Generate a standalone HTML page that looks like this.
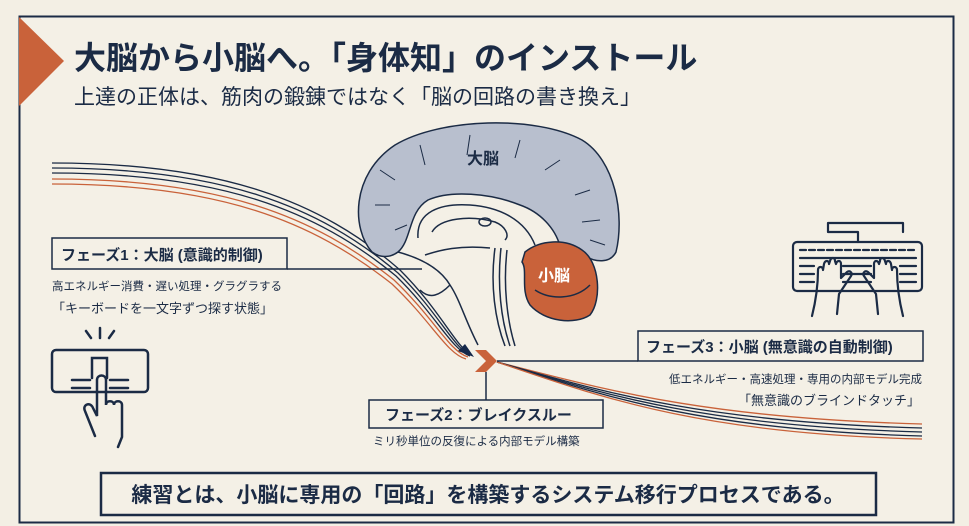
<!DOCTYPE html>
<html><head><meta charset="utf-8"><style>
html,body{margin:0;padding:0;background:#f3efe4;}
svg{display:block;}
text{font-family:"Liberation Sans","Noto Sans CJK JP",sans-serif;fill:#1b2b45;}
</style></head><body>
<svg width="969" height="526" viewBox="0 0 969 526" xmlns="http://www.w3.org/2000/svg">
<rect x="0" y="0" width="969" height="526" fill="#f3efe4"/>
<rect x="19.5" y="16.5" width="934" height="506" fill="#f4f0e6" stroke="#1b2b45" stroke-width="2"/>
<polygon points="19,17 64,61 19,106" fill="#c9623a"/>
<text x="74" y="69" font-size="32" font-weight="bold" fill="#14284a">大脳から小脳へ。「身体知」のインストール</text>
<text x="74" y="104" font-size="21" fill="#222">上達の正体は、筋肉の鍛錬ではなく「脳の回路の書き換え」</text>

<!-- curves -->
<g fill="none" stroke-width="1.3">
<path d="M52,163 C220,163 320,200 400,270 C440,310 455,345 470,354" stroke="#1b2b45"/>
<path d="M52,168 C220,168 318,205 398,273 C438,312 453,347 470,355" stroke="#1b2b45"/>
<path d="M52,173 C220,173 316,210 396,276 C436,315 451,349 470,356" stroke="#1b2b45"/>
<path d="M52,179 C220,179 314,216 394,280 C434,318 449,351 468,357" stroke="#c9623a"/>
<path d="M52,184 C220,184 312,221 392,284 C432,322 447,354 466,359" stroke="#c9623a"/>
<path d="M497,362 C600,388 700,418 922,424" stroke="#c9623a"/>
<path d="M497,362 C600,391 700,422 922,428" stroke="#1b2b45"/>
<path d="M497,362 C600,393 700,426 922,432" stroke="#1b2b45"/>
<path d="M497,362 C600,395 700,430 922,436" stroke="#1b2b45"/>
<path d="M497,362 C600,397 700,434 922,439" stroke="#c9623a"/>
</g>
<polygon points="474,357 458,351 465,344" fill="#14284a"/>
<polygon points="475,350 486,350 497,361 486,372 475,372 486,361" fill="#c9623a"/>

<!-- brain -->
<g stroke="#1b2b45" stroke-width="1.5">
<path d="M372,252 C352,230 350,175 395,145 C440,118 535,115 582,140 C615,160 625,215 616,252 C610,264 595,262 585,256 L560,246 C555,228 540,212 520,205 C490,193 450,190 428,200 C408,212 412,240 398,252 C390,258 380,258 372,252 Z" fill="#b8bfce"/>
<path d="M418,238 C416,212 440,203 470,205 C500,207 525,220 535,245" fill="none"/>
<path d="M432,232 C440,218 470,215 495,222 C505,226 510,235 505,240" fill="none"/>
<ellipse cx="485" cy="222" rx="6" ry="4" fill="none"/>
<path d="M398,252 C420,258 440,268 450,285 C460,300 465,320 478,345" fill="none"/>
<path d="M425,255 C440,250 460,245 490,248" fill="none"/>
<path d="M495,248 C490,285 495,320 505,346 M501,248 C497,285 501,320 510,346 M507,250 C503,285 507,320 515,346" fill="none"/>
<path d="M450,285 C440,295 430,300 420,290" fill="none"/>
<path d="M525,252 C540,240 565,238 582,250 C600,262 602,300 590,315 C575,325 545,322 530,305 C520,290 528,270 522,262 Z" fill="#c9623a"/>
<path d="M535,290 C550,300 575,300 590,285" fill="none"/>
</g>
<g stroke="#1b2b45" stroke-width="1" fill="none">
<path d="M380,170 l15,10 M420,145 l5,20 M470,135 l-3,20 M520,140 l-5,18 M560,160 l-15,10 M590,190 l-15,5 M600,220 l-18,2 M375,205 l15,0 M395,230 l12,-5 M605,245 l-15,-5"/>
</g>
<text x="467" y="164" font-size="16" font-weight="bold">大脳</text>
<text x="538" y="281" font-size="16" font-weight="bold" style="fill:#fff">小脳</text>

<!-- phase 1 -->
<line x1="287" y1="269" x2="422" y2="269" stroke="#1b2b45" stroke-width="1.5"/>
<rect x="52" y="238" width="235" height="31" fill="#f4f0e6" stroke="#1b2b45" stroke-width="1.5"/>
<text x="61" y="260" font-size="15" font-weight="bold">フェーズ1：大脳 (意識的制御)</text>
<text x="52" y="290" font-size="11.5">高エネルギー消費・遅い処理・グラグラする</text>
<text x="52" y="313" font-size="13">「キーボードを一文字ずつ探す状態」</text>

<!-- icon 1 -->
<g stroke="#1b2b45" stroke-width="2.5" fill="none" stroke-linecap="round">
<rect x="52" y="350" width="96" height="42" rx="4"/>
<path d="M86,331 l5,7 M100,328 v10 M114,331 l-5,7"/>
<path d="M92,378 v-20 h15 v20"/>
<path d="M72,388 h18 M110,388 h18 M72,380 h18 M110,380 h18"/>
<path d="M95,436 l-10,-25 c-3,-6 5,-10 8,-3 l4,8 v-36 c0,-6 9,-6 9,0 v25 c0,-5 8,-5 8,0 c0,-5 8,-5 8,0 v32 l-4,10"/>
</g>

<!-- phase 2 -->
<line x1="486" y1="372" x2="486" y2="400" stroke="#1b2b45" stroke-width="1.5"/>
<rect x="369" y="400" width="234" height="28" fill="#f4f0e6" stroke="#1b2b45" stroke-width="1.5"/>
<text x="385" y="420" font-size="15" font-weight="bold">フェーズ2：ブレイクスルー</text>
<text x="373" y="445" font-size="11.5">ミリ秒単位の反復による内部モデル構築</text>

<!-- phase 3 -->
<line x1="497" y1="361" x2="638" y2="361" stroke="#1b2b45" stroke-width="1.5"/>
<rect x="638" y="331" width="285" height="30" fill="#f4f0e6" stroke="#1b2b45" stroke-width="1.5"/>
<text x="646" y="352" font-size="15" font-weight="bold">フェーズ3：小脳 (無意識の自動制御)</text>
<text x="922" y="383" font-size="11.5" text-anchor="end">低エネルギー・高速処理・専用の内部モデル完成</text>
<text x="920" y="405" font-size="13" text-anchor="end">「無意識のブラインドタッチ」</text>

<!-- keyboard icon -->
<g stroke="#1b2b45" stroke-width="2.2" fill="none" stroke-linecap="round" stroke-linejoin="round">
<rect x="793" y="242" width="129" height="49" rx="4"/>
<path d="M858,242 v-10 h-30 v-9 h75 v9"/>
<path d="M800,250 h116" stroke-dasharray="6,3"/>
<path d="M800,258 h116"/>
<path d="M800,266 h14 M800,274 h14 M800,282 h14 M843,266 h28 M843,274 h28 M843,282 h28 M900,266 h16 M900,274 h16 M900,282 h16"/>
<path d="M812,316 C816,300 818,285 818,270 c0,-4 5,-4 5,0 l1,-6 c1,-4 5,-4 5,0 l1,-3 c1,-4 5,-4 5,0 l1,3 c1,-4 5,-4 5,0 v14 l6,-6 c3,-2 6,1 4,4 l-12,18 l-2,20"/>
<path d="M903,316 C899,300 897,285 897,270 c0,-4 -5,-4 -5,0 l-1,-6 c-1,-4 -5,-4 -5,0 l-1,-3 c-1,-4 -5,-4 -5,0 l-1,3 c-1,-4 -5,-4 -5,0 v14 l-6,-6 c-3,-2 -6,1 -4,4 l12,18 l2,20"/>
</g>

<!-- bottom box -->
<rect x="101" y="473" width="775" height="42" fill="#f4f0e6" stroke="#1b2b45" stroke-width="2.5"/>
<text x="488" y="502" font-size="21" font-weight="bold" text-anchor="middle">練習とは、小脳に専用の「回路」を構築するシステム移行プロセスである。</text>
</svg>
</body></html>
